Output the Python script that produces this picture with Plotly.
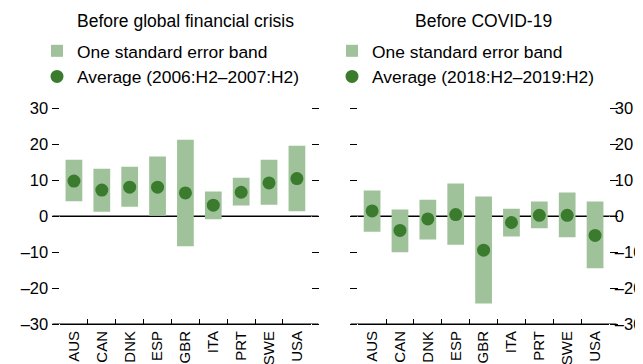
import plotly.graph_objects as go

countries = ["AUS", "CAN", "DNK", "ESP", "GBR", "ITA", "PRT", "SWE", "USA"]

# Before global financial crisis
gfc_avg = [9.7, 7.2, 8.0, 8.0, 6.4, 3.0, 6.6, 9.2, 10.4]
gfc_low = [4.1, 1.2, 2.6, 0.1, -8.4, -0.9, 2.9, 3.1, 1.3]
gfc_high = [15.6, 13.1, 13.7, 16.5, 21.2, 6.8, 10.6, 15.6, 19.5]

# Before COVID-19
cov_avg = [1.4, -4.0, -0.8, 0.4, -9.5, -1.8, 0.2, 0.2, -5.4]
cov_low = [-4.4, -10.1, -6.5, -8.0, -24.3, -5.7, -3.4, -5.9, -14.5]
cov_high = [7.1, 1.8, 4.5, 9.0, 5.4, 2.0, 4.0, 6.5, 4.0]

y_range = [-30, 30]
y_ticks = [-30, -20, -10, 0, 10, 20, 30]
y_ticktext = ["–30", "–20", "–10", "0", "10", "20", "30"]

titles = ["Before global financial crisis", "Before COVID-19"]
band_name = "One standard error band"
avg_names = ["Average (2006:H2–2007:H2)", "Average (2018:H2–2019:H2)"]

BAND = "#9fc29a"
DOT = "#3a7b2e"
FONT = "Liberation Sans, Arial, sans-serif"
FS = 16.5

fig = go.Figure()

panels = [(gfc_low, gfc_high, gfc_avg), (cov_low, cov_high, cov_avg)]
for i, (lo, hi, av) in enumerate(panels):
    xa = "x" if i == 0 else "x2"
    ya = "y" if i == 0 else "y2"
    lg = "legend" if i == 0 else "legend2"
    fig.add_trace(go.Bar(
        x=countries, y=[h - l for h, l in zip(hi, lo)], base=lo,
        width=0.6, marker=dict(color=BAND, line=dict(width=0)),
        name=band_name, xaxis=xa, yaxis=ya, legend=lg, hoverinfo="skip"))
    fig.add_trace(go.Scatter(
        x=countries, y=av, mode="markers",
        marker=dict(color=DOT, size=13, line=dict(width=0)),
        name=avg_names[i], xaxis=xa, yaxis=ya, legend=lg))

W, H = 643, 364
TL = 7.5  # y tick length
L, R, T, B = 52, 42.3, 100, 48
pw = W - L - R
d1 = [0, (302.7 - L) / pw]
d2 = [(350 - L) / pw, 1]
ext = TL / pw

xcommon = dict(type="category", range=[-0.5, len(countries) - 0.5], tickson="boundaries",
               ticks="inside", ticklen=5, tickcolor="black", tickwidth=1,
               showline=True, linecolor="black", linewidth=1,
               showgrid=False, zeroline=False, tickangle=-90, automargin=False,
               tickfont=dict(family=FONT, size=15, color="black"),
               categoryorder="array", categoryarray=countries, fixedrange=True)
ycommon = dict(range=y_range, tickmode="array", tickvals=y_ticks, ticktext=y_ticktext,
               ticks="outside", ticklen=TL, tickcolor="black", tickwidth=1,
               mirror="ticks", showline=False, showgrid=False, automargin=False,
               zeroline=True, zerolinecolor="black", zerolinewidth=1,
               tickfont=dict(family=FONT, size=FS, color="black"), fixedrange=True)

fig.update_layout(
    width=W, height=H,
    margin=dict(l=L, r=R, t=T, b=B, autoexpand=False),
    plot_bgcolor="rgba(0,0,0,0)", paper_bgcolor="white",
    barmode="overlay",
    font=dict(family=FONT, size=FS, color="black"),
    xaxis=dict(domain=d1, anchor="y", **xcommon),
    xaxis2=dict(domain=d2, anchor="y2", **xcommon),
    yaxis=dict(domain=[0, 1], anchor="x", side="left", **ycommon),
    yaxis2=dict(domain=[0, 1], anchor="x2", side="right", ticklabelstandoff=-6, **ycommon),
    legend=dict(xref="container", yref="container", x=29 / W, y=1 - 25 / H,
                xanchor="left", yanchor="top", bgcolor="rgba(0,0,0,0)",
                font=dict(family=FONT, size=17.4), tracegroupgap=0,
                itemclick=False, itemdoubleclick=False),
    legend2=dict(xref="container", yref="container", x=324 / W, y=1 - 25 / H,
                 xanchor="left", yanchor="top", bgcolor="rgba(0,0,0,0)",
                 font=dict(family=FONT, size=17.4), tracegroupgap=0,
                 itemclick=False, itemdoubleclick=False),
    showlegend=True,
)

# zero line and bottom axis line extend across the outside tick marks
for dom, yref in ((d1, "y"), (d2, "y2")):
    for yv in (0, y_range[0]):
        fig.add_shape(type="line", xref="paper", yref=yref,
                      x0=dom[0] - ext, x1=dom[1] + ext, y0=yv, y1=yv,
                      line=dict(color="black", width=1), layer="below")

for i, t in enumerate(titles):
    dom = d1 if i == 0 else d2
    fig.add_annotation(text=t, xref="paper", yref="paper",
                       x=(dom[0] + dom[1]) / 2, y=1 + (T - 0.5) / (H - T - B),
                       xanchor="center", yanchor="top", showarrow=False,
                       font=dict(family=FONT, size=17.5, color="black"))

fig.write_html("out.html")
